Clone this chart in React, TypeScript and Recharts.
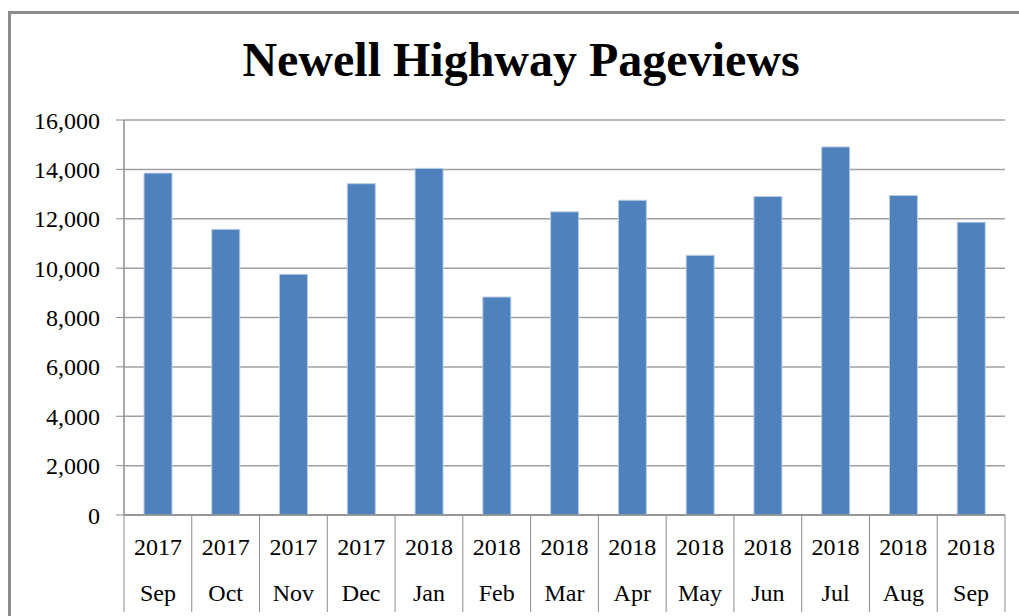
import { BarChart, Bar, XAxis, YAxis, CartesianGrid } from "recharts";

const months = ["Sep", "Oct", "Nov", "Dec", "Jan", "Feb", "Mar", "Apr", "May", "Jun", "Jul", "Aug", "Sep"];
const years = ["2017", "2017", "2017", "2017", "2018", "2018", "2018", "2018", "2018", "2018", "2018", "2018", "2018"];
const pageviews = [13850, 11570, 9750, 13420, 14040, 8830, 12280, 12750, 10520, 12900, 14910, 12940, 11860];
const yTicks = [0, 2000, 4000, 6000, 8000, 10000, 12000, 14000, 16000];

const data = months.map((m, i) => ({ key: `${years[i]}-${m}-${i}`, month: m, year: years[i], views: pageviews[i] }));

const W = 1019;
const H = 616;
const PLOT_LEFT = 124;
const PLOT_RIGHT = 1005;
const PLOT_TOP = 120;
const PLOT_BOTTOM = 515;
const BAND = (PLOT_RIGHT - PLOT_LEFT) / months.length;
const FONT = '"Times New Roman", "Liberation Serif", serif';

function CategoryTick(props: any) {
  const { x, index } = props;
  const d = data[index];
  const last = index === data.length - 1;
  return (
    <g>
      <line x1={x - BAND / 2} x2={x - BAND / 2} y1={PLOT_BOTTOM} y2={612} stroke="#8c8c8c" />
      {last && <line x1={x + BAND / 2} x2={x + BAND / 2} y1={PLOT_BOTTOM} y2={612} stroke="#8c8c8c" />}
      <text x={x} y={547} textAnchor="middle" dominantBaseline="central" fontFamily={FONT} fontSize={24} fill="#000">
        {d.year}
      </text>
      <text x={x} y={593} textAnchor="middle" dominantBaseline="central" fontFamily={FONT} fontSize={24} fill="#000">
        {d.month}
      </text>
    </g>
  );
}

export default function App() {
  return (
    <div style={{ position: "absolute", left: 0, top: 0, width: W, height: H, background: "#fff", overflow: "hidden" }}>
      <div
        style={{
          position: "absolute",
          left: 8,
          top: 11,
          width: W,
          height: H,
          borderTop: "3px solid #8c8c8c",
          borderLeft: "3px solid #8c8c8c",
        }}
      />
      <div
        style={{
          position: "absolute",
          left: 0,
          top: 36,
          width: 1042,
          textAlign: "center",
          fontFamily: FONT,
          fontWeight: "bold",
          fontSize: 48,
          lineHeight: "48px",
          color: "#000",
        }}
      >
        Newell Highway Pageviews
      </div>
      <div style={{ position: "absolute", left: 0, top: 0 }}>
        <BarChart
          width={W}
          height={H}
          data={data}
          margin={{ top: PLOT_TOP, right: W - PLOT_RIGHT, bottom: 0, left: 0 }}
        >
          <CartesianGrid vertical={false} stroke="#a0a0a0" strokeWidth={1.5} />
          <XAxis
            dataKey="key"
            interval={0}
            height={H - PLOT_BOTTOM}
            axisLine={{ stroke: "#8c8c8c", strokeWidth: 1.5 }}
            tickLine={false}
            tick={<CategoryTick />}
          />
          <YAxis
            width={PLOT_LEFT}
            domain={[0, 16000]}
            ticks={yTicks}
            interval={0}
            tickFormatter={(v: number) => v.toLocaleString("en-US")}
            axisLine={{ stroke: "#8c8c8c", strokeWidth: 1.5 }}
            tickLine={{ stroke: "#8c8c8c" }}
            tickSize={8}
            tickMargin={16}
            tick={{ fill: "#000", fontSize: 24, fontFamily: FONT }}
          />
          <Bar dataKey="views" fill="#4f81bd" stroke="#b9cde5" strokeWidth={1} barSize={28} isAnimationActive={false} />
        </BarChart>
      </div>
    </div>
  );
}
